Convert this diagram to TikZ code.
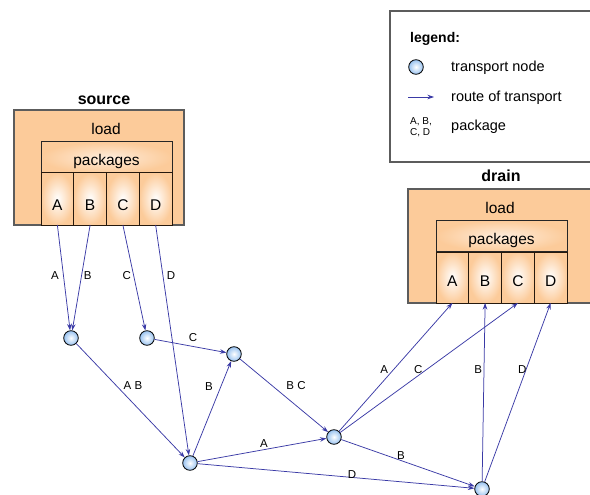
\documentclass[tikz,border=0pt]{standalone}
\usepackage{fontspec}
\setmainfont{Liberation Sans}
\usetikzlibrary{arrows.meta}

\definecolor{peach}{HTML}{FCCB9A}
\definecolor{route}{HTML}{3A3AA6}
\definecolor{nodeblue}{HTML}{98C2F0}
\definecolor{frame}{HTML}{5C5C5C}

\begin{document}
\begin{tikzpicture}[x=1pt,y=-1pt,
  outerbox/.style={draw=frame, line width=1.1pt, fill=peach, inner sep=0pt, outer sep=0pt},
  pkgbox/.style={draw=black!85, line width=1pt, inner color=peach!35, outer color=peach,
    minimum width=131pt, minimum height=31pt, inner sep=0pt, outer sep=0pt,
    text height=17pt, text depth=0pt, font=\fontsize{15.5}{18}\selectfont},
  cell/.style={draw=black!80!brown, line width=1pt, inner color=white, outer color=peach,
    minimum width=32.75pt, minimum height=52pt, inner sep=0pt, outer sep=0pt,
    text depth=0pt, font=\fontsize{15.5}{18}\selectfont},
  bigtxt/.style={font=\fontsize{15.5}{18}\selectfont, inner sep=0pt},
  title/.style={font=\fontsize{16}{18}\selectfont\bfseries, inner sep=0pt},
  tnode/.style={circle, draw=black, line width=0.8pt, inner color=white, outer color=nodeblue,
    minimum size=14.6pt, inner sep=0pt},
  route/.style={draw=route, line width=0.75pt, -{Stealth[length=6.5pt,width=4.5pt,inset=2.2pt]}},
  lbl/.style={font=\fontsize{11.5}{11.5}\selectfont, inner sep=1pt, text=black},
  legtxt/.style={font=\fontsize{14.5}{16}\selectfont, inner sep=0pt},
  legsmall/.style={font=\fontsize{10}{11.5}\selectfont, inner sep=0pt, align=left}
]
\useasboundingbox (0,0) rectangle (590,495);
\clip (0,0) rectangle (590,495);

% ---------- legend ----------
\draw[draw=frame, line width=1.1pt, fill=white] (390,11) rectangle (600,162);
\node[title, font=\fontsize{14}{16}\selectfont\bfseries, anchor=base west] (legtitle) at (410,43) {legend:};
\node[tnode] (legnode) at (416,67) {};
\node[legtxt, anchor=base west] (legnodetxt) at (451,72) {transport node};
\coordinate (legA) at (408,97);
\coordinate (legB) at (434,97);
\draw[route] (legA) -- (legB);
\node[legtxt, anchor=base west] (legroutetxt) at (451,102) {route of transport};
\node[legsmall, anchor=west] (legpkg) at (410,127) {A, B,\\C, D};
\node[legtxt, anchor=base west] (legpkgtxt) at (451,131) {package};

% ---------- source ----------
\node[title, anchor=base] (srctitle) at (104,105) {source};
\node[outerbox, minimum width=170pt, minimum height=115pt] (src) at (99,167.5) {};
\node[bigtxt, anchor=base] (srcload) at (106,135) {load};
\node[pkgbox] (srcpkg) at (106.5,157.5) {packages};
\foreach \n/\x in {A/57.375,B/90.125,C/122.875,D/155.625}
  \node[cell, text height=23pt] (s\n) at (\x,199) {\n};

% ---------- drain ----------
\node[title, anchor=base] (drntitle) at (501,182) {drain};
\node[outerbox, minimum width=200pt, minimum height=114pt] (drn) at (508,246) {};
\node[bigtxt, anchor=base] (drnload) at (500,213) {load};
\node[pkgbox] (drnpkg) at (501.5,236) {packages};
\foreach \n/\x in {A/452.375,B/485.125,C/517.875,D/550.625}
  \node[cell, minimum height=51pt, text height=18pt] (d\n) at (\x,277.5) {\n};

% ---------- transport nodes ----------
\node[tnode] (n1) at (71,338) {};
\node[tnode] (n2) at (147,338) {};
\node[tnode] (n3) at (234,354) {};
\node[tnode] (n4) at (190,463) {};
\node[tnode] (n5) at (334,437) {};
\node[tnode] (n6) at (482,489) {};

% ---------- routes ----------
\draw[route] (sA.south) -- node[lbl, pos=0.482, xshift=-8.6pt] {A} (n1);
\draw[route] (sB.south) -- node[lbl, pos=0.482, xshift=6.3pt] {B} (n1);
\draw[route] (sC.south) -- node[lbl, pos=0.48, xshift=-6.8pt] {C} (n2);
\draw[route] (sD.south) -- node[lbl, pos=0.221, xshift=8.1pt] {D} (n4);
\draw[route] (n1) -- node[lbl, pos=0.37, xshift=16.6pt] {A B} (n4);
\draw[route] (n2) -- node[lbl, pos=0.534, yshift=8.5pt] {C} (n3);
\draw[route] (n4) -- node[lbl, pos=0.736, xshift=-12.1pt] {B} (n3);
\draw[route] (n3) -- node[lbl, pos=0.55, xshift=7.6pt, yshift=13.2pt] {B C} (n5);
\draw[route] (n4) -- node[lbl, pos=0.515, yshift=6.6pt] {A} (n5);
\draw[route] (n4) -- node[lbl, pos=0.558, yshift=2.4pt] {D} (n6);
\draw[route] (n5) -- node[lbl, pos=0.448, yshift=5.5pt] {B} (n6);
\draw[route] (n5) -- node[lbl, pos=0.479, xshift=-9.2pt] {A} (dA.south);
\draw[route] (n5) -- node[lbl, pos=0.483, xshift=-7.7pt] {C} (dC.south);
\draw[route] (n6) -- node[lbl, pos=0.625, xshift=-5.9pt] {B} (dB.south);
\draw[route] (n6) -- node[lbl, pos=0.626, xshift=-3.8pt] {D} (dD.south);
\end{tikzpicture}
\end{document}
